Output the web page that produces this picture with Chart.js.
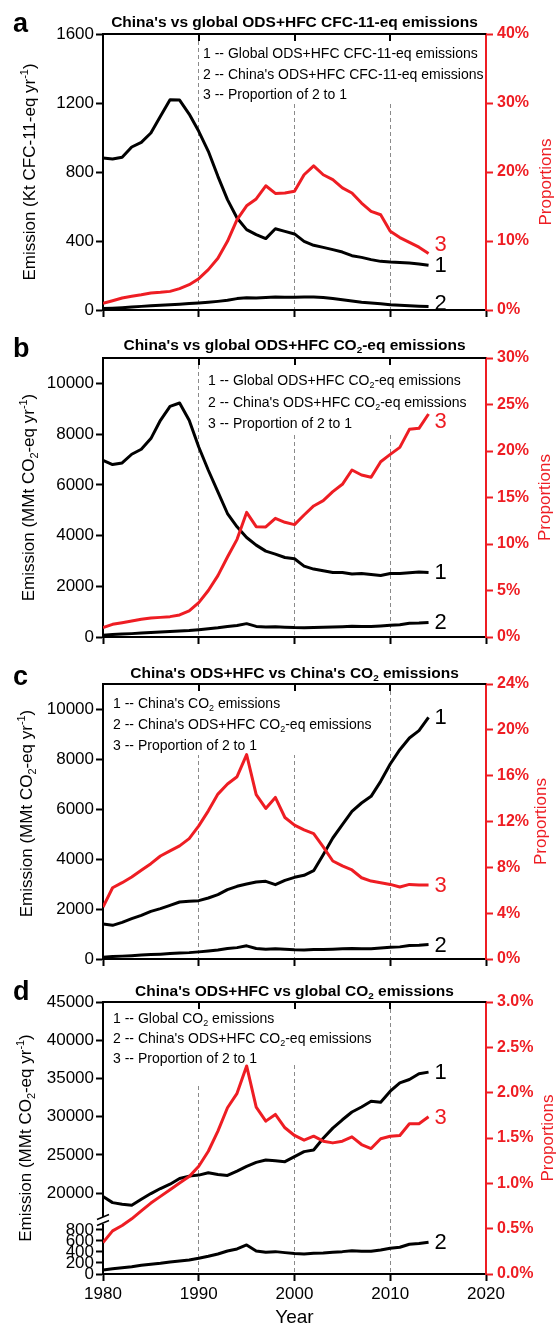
<!DOCTYPE html>
<html>
<head>
<meta charset="utf-8">
<script src="https://cdn.jsdelivr.net/npm/chart.js@4.4.1/dist/chart.umd.min.js"></script>
<style>
  html, body { margin: 0; padding: 0; background: #fff; }
  #wrap { position: relative; width: 556px; height: 1327px; overflow: hidden; background: #fff; }
  #wrap canvas { position: absolute; left: 0; display: block; }
</style>
</head>
<body>
<div id="wrap">
  <canvas id="pa" width="556" height="330" style="top:0px"></canvas>
  <canvas id="pb" width="556" height="330" style="top:322px"></canvas>
  <canvas id="pc" width="556" height="330" style="top:644px"></canvas>
  <canvas id="pd" width="556" height="361" style="top:966px"></canvas>
</div>
<script>
// ---- data ----
const years = [1980, 1981, 1982, 1983, 1984, 1985, 1986, 1987, 1988, 1989,
               1990, 1991, 1992, 1993, 1994, 1995, 1996, 1997, 1998, 1999,
               2000, 2001, 2002, 2003, 2004, 2005, 2006, 2007, 2008, 2009,
               2010, 2011, 2012, 2013, 2014];
const yearTicks = [1980, 1990, 2000, 2010, 2020];

// (a) CFC-11-eq, kt per year; share in %
const globalOdsCfc11 = [881, 875, 885, 945, 972, 1026, 1123, 1219, 1217, 1136,
                        1036, 920, 775, 640, 533, 466, 437, 414, 471, 456,
                        441, 398, 375, 363, 350, 336, 315, 305, 292, 282,
                        278, 276, 272, 267, 259];
const chinaOdsCfc11 = [8, 10, 13, 17, 21, 25, 28, 31, 34, 37,
                       41, 45, 50, 56, 66, 71, 70, 73, 76, 74,
                       74, 75, 76, 73, 67, 60, 52, 45, 40, 36,
                       31, 28, 25, 22, 20];
const shareCfc11 = [0.97, 1.35, 1.74, 1.98, 2.2, 2.46, 2.56, 2.7, 3.1, 3.67,
                    4.54, 5.85, 7.5, 9.95, 13.1, 15.1, 16.1, 18.0, 16.9, 16.95,
                    17.2, 19.6, 20.9, 19.6, 18.9, 17.7, 16.96, 15.5, 14.3, 13.8,
                    11.4, 10.5, 9.8, 9.1, 8.2];

// (b) CO2-eq, MMt per year
const globalOdsCo2 = [6968, 6798, 6863, 7205, 7402, 7822, 8543, 9094, 9226, 8543,
                      7493, 6575, 5722, 4869, 4344, 3924, 3622, 3386, 3268, 3136,
                      3084, 2795, 2677, 2612, 2546, 2546, 2480, 2507, 2467, 2428,
                      2507, 2507, 2533, 2559, 2546];
const chinaOdsCo2 = [73, 97, 115, 133, 158, 176, 194, 218, 236, 255,
                     285, 321, 364, 418, 455, 527, 418, 394, 406, 388,
                     370, 364, 376, 382, 394, 406, 424, 412, 412, 436,
                     467, 485, 539, 552, 576];
const shareOdsCo2 = [1.0, 1.36, 1.54, 1.72, 1.9, 2.04, 2.11, 2.19, 2.37, 2.8,
                     3.69, 5.0, 6.6, 8.6, 10.5, 13.4, 11.86, 11.83, 12.76, 12.33,
                     12.08, 13.12, 14.09, 14.66, 15.63, 16.42, 17.96, 17.42, 17.17, 18.85,
                     19.64, 20.39, 22.33, 22.44, 23.98];

// (c) China's CO2
const chinaCo2 = [1400, 1347, 1467, 1613, 1747, 1907, 2013, 2147, 2280, 2307,
                  2333, 2440, 2573, 2773, 2907, 3000, 3080, 3107, 2973, 3147,
                  3267, 3347, 3533, 4173, 4840, 5373, 5907, 6240, 6507, 7107,
                  7800, 8373, 8840, 9133, 9667];
const shareChinaCo2 = [4.53, 6.22, 6.66, 7.15, 7.74, 8.32, 8.99, 9.43, 9.87, 10.51,
                       11.62, 12.93, 14.39, 15.27, 15.91, 17.84, 14.34, 13.14, 14.1, 12.35,
                       11.68, 11.27, 10.95, 9.78, 8.55, 8.12, 7.77, 7.09, 6.8, 6.66,
                       6.51, 6.28, 6.51, 6.45, 6.45];

// (d) global CO2
const globalCo2 = [19561, 18772, 18553, 18421, 19210, 19956, 20614, 21184, 21930, 22237,
                   22368, 22675, 22456, 22325, 22895, 23509, 24035, 24342, 24254, 24123,
                   24781, 25439, 25658, 27193, 28509, 29605, 30614, 31272, 32018, 31886,
                   33333, 34430, 34868, 35614, 35833];
const shareGlobalCo2 = [0.347, 0.476, 0.535, 0.609, 0.697, 0.782, 0.856, 0.93, 1.004, 1.074,
                        1.188, 1.354, 1.576, 1.834, 1.993, 2.295, 1.841, 1.686, 1.76, 1.613,
                        1.528, 1.476, 1.52, 1.465, 1.446, 1.465, 1.513, 1.428, 1.384, 1.491,
                        1.52, 1.528, 1.657, 1.657, 1.734];

// tick values
const ticksA = [0, 400, 800, 1200, 1600];
const pctTicksA = [0, 10, 20, 30, 40];
const ticksMMt = [0, 2000, 4000, 6000, 8000, 10000];
const pctTicksB = [0, 5, 10, 15, 20, 25, 30];
const pctTicksC = [0, 4, 8, 12, 16, 20, 24];
const ticksDUpper = [20000, 25000, 30000, 35000, 40000, 45000];
const ticksDLower = [0, 200, 400, 600, 800];
const pctTicksD = [0, 0.5, 1, 1.5, 2, 2.5, 3];

// ---- drawing helpers ----
const FAMILY = "'Liberation Sans', Arial, Helvetica, sans-serif";
const RED = '#ee1d23';
Chart.defaults.font.family = FAMILY;
Chart.defaults.color = '#000';

// "CO_{2}" -> subscript, "yr^{-1}" -> superscript
function richParts(s) {
  const out = [];
  const re = /([_^])\{([^}]*)\}/g;
  let last = 0, m;
  while ((m = re.exec(s))) {
    if (m.index > last) out.push({ t: s.slice(last, m.index), k: 0 });
    out.push({ t: m[2], k: m[1] === '_' ? 1 : 2 });
    last = re.lastIndex;
  }
  if (last < s.length) out.push({ t: s.slice(last), k: 0 });
  return out;
}
function drawRich(ctx, s, x, y, size, weight, color, align) {
  const parts = richParts(s);
  let w = 0;
  parts.forEach(p => {
    p.sz = p.k ? size * 0.64 : size;
    ctx.font = `${weight} ${p.sz}px ${FAMILY}`;
    p.w = ctx.measureText(p.t).width;
    w += p.w;
  });
  let cx = align === 'center' ? x - w / 2 : (align === 'right' ? x - w : x);
  ctx.fillStyle = color;
  ctx.textAlign = 'left';
  ctx.textBaseline = 'alphabetic';
  parts.forEach(p => {
    ctx.font = `${weight} ${p.sz}px ${FAMILY}`;
    const dy = p.k === 1 ? size * 0.22 : (p.k === 2 ? -size * 0.42 : 0);
    ctx.fillText(p.t, cx, y + dy);
    cx += p.w;
  });
}

const decor = {
  id: 'decor',
  beforeDatasetsDraw(chart, args, o) {
    const ctx = chart.ctx, a = chart.chartArea;
    ctx.save();
    // white boxes behind the in-plot key
    ctx.fillStyle = '#fff';
    (o.masks || []).forEach(m => ctx.fillRect(m[0], m[1], m[2] - m[0], m[3] - m[1]));
    // top frame with inward ticks
    ctx.strokeStyle = '#000';
    ctx.lineWidth = 2;
    ctx.beginPath(); ctx.moveTo(a.left - 1, a.top); ctx.lineTo(a.right, a.top); ctx.stroke();
    const xs = chart.scales.x;
    yearTicks.slice(1, -1).forEach(v => {
      const px = Math.round(xs.getPixelForValue(v));
      ctx.beginPath(); ctx.moveTo(px, a.top); ctx.lineTo(px, a.top + 7); ctx.stroke();
    });
    ctx.restore();
  },
  afterDatasetsDraw(chart, args, o) {
    const ctx = chart.ctx, a = chart.chartArea;
    const cy = (a.top + a.bottom) / 2;
    ctx.save();
    // panel letter and title
    drawRich(ctx, o.letter, 13, o.letterY, 27, 'bold', '#000', 'left');
    drawRich(ctx, o.title, (a.left + a.right) / 2, o.titleY, 15.5, 'bold', '#000', 'center');
    // axis titles
    ctx.save();
    ctx.translate(o.yTitleX, cy + (o.yTitleDy || 0));
    ctx.rotate(-Math.PI / 2);
    drawRich(ctx, o.yTitle, 0, 0, 17, 'normal', '#000', 'center');
    ctx.restore();
    ctx.save();
    ctx.translate(o.rTitleX, cy + (o.rTitleDy || 0));
    ctx.rotate(-Math.PI / 2);
    drawRich(ctx, 'Proportions', 0, 0, 17, 'normal', RED, 'center');
    ctx.restore();
    // key
    o.key.forEach((line, i) => drawRich(ctx, line, o.keyX, o.keyY + i * o.keyStep, 14, 'normal', '#000', 'left'));
    // series numbers at line ends
    chart.data.datasets.forEach((ds, i) => {
      const pts = chart.getDatasetMeta(i).data;
      const p = pts[pts.length - 1];
      ctx.font = `22px ${FAMILY}`;
      ctx.fillStyle = ds.borderColor;
      ctx.textAlign = 'left';
      ctx.textBaseline = 'middle';
      ctx.fillText(ds.tag, p.x + 6, p.y + (ds.tagDy || 0) + 1);
    });
    // axis break
    if (o.axisBreak) {
      const by = chart.scales[o.axisBreak].bottom, ax = a.left;
      ctx.fillStyle = '#fff';
      ctx.fillRect(ax - 2, by - 3, 4, 7);
      ctx.strokeStyle = '#000';
      ctx.lineWidth = 1.5;
      [-3, 3].forEach(off => {
        ctx.beginPath();
        ctx.moveTo(ax - 6, by + off + 2.5);
        ctx.lineTo(ax + 6, by + off - 2.5);
        ctx.stroke();
      });
    }
    // x axis title
    if (o.xTitle) {
      ctx.font = `19px ${FAMILY}`;
      ctx.fillStyle = '#000';
      ctx.textAlign = 'center';
      ctx.textBaseline = 'alphabetic';
      ctx.fillText(o.xTitle, (a.left + a.right) / 2, o.xTitleY);
    }
    ctx.restore();
  }
};

function xScale(showYears, height) {
  return {
    type: 'linear', min: 1980, max: 2020,
    afterBuildTicks: s => { s.ticks = yearTicks.map(v => ({ value: v })); },
    afterFit: s => { s.height = height; },
    grid: {
      drawOnChartArea: true, drawTicks: true,
      color: c => (c.tick && (c.tick.value === 1980 || c.tick.value === 2020)) ? 'rgba(0,0,0,0)' : '#8a8a8a',
      lineWidth: 1, tickLength: 7, tickWidth: 2, tickColor: '#000'
    },
    border: { display: true, color: '#000', width: 2, dash: [4, 3] },
    ticks: { display: showYears, autoSkip: false, maxRotation: 0, padding: 3,
             font: { size: 17 }, color: '#000', callback: v => String(v) }
  };
}
function yLeft(min, max, tickVals, extra) {
  return Object.assign({
    type: 'linear', position: 'left', min, max,
    afterBuildTicks: s => { s.ticks = tickVals.map(v => ({ value: v })); },
    afterFit: s => { s.width = 103; },
    grid: { drawOnChartArea: false, drawTicks: true, tickLength: 7, tickWidth: 2, tickColor: '#000', color: '#000' },
    border: { display: true, color: '#000', width: 2 },
    ticks: { autoSkip: false, padding: 2, font: { size: 17 }, color: '#000', callback: v => String(v) }
  }, extra || {});
}
function yRight(max, tickVals, decimals) {
  return {
    type: 'linear', position: 'right', min: 0, max,
    afterBuildTicks: s => { s.ticks = tickVals.map(v => ({ value: v })); },
    afterFit: s => { s.width = 70; },
    grid: { drawOnChartArea: false, drawTicks: true, tickLength: 7, tickWidth: 2, tickColor: RED, color: RED },
    border: { display: true, color: RED, width: 2 },
    ticks: { autoSkip: false, padding: 4, font: { size: 16, weight: 'bold' }, color: RED,
             callback: v => Number(v).toFixed(decimals) + '%' }
  };
}
function line(label, values, axis, color, tag, tagDy, order) {
  return {
    label, tag, tagDy, order,
    data: years.map((yr, i) => ({ x: yr, y: values[i] })),
    yAxisID: axis, borderColor: color, backgroundColor: color,
    borderWidth: 3, pointRadius: 0, tension: 0, fill: false,
    borderJoinStyle: 'round', borderCapStyle: 'butt'
  };
}
function panel(id, padTop, datasets, scales, decorOpts) {
  return new Chart(document.getElementById(id), {
    type: 'line',
    data: { datasets },
    options: {
      responsive: false, animation: false, events: [],
      layout: { padding: { top: padTop, left: 0, right: 0, bottom: 0 } },
      plugins: { legend: { display: false }, tooltip: { enabled: false }, decor: decorOpts },
      scales
    },
    plugins: [decor]
  });
}

// ---- (a) ----
panel('pa', 34, [
  line('Global ODS+HFC CFC-11-eq emissions', globalOdsCfc11, 'y', '#000', '1', 0, 1),
  line("China's ODS+HFC CFC-11-eq emissions", chinaOdsCfc11, 'y', '#000', '2', -4, 2),
  line('Proportion of 2 to 1', shareCfc11, 'yR', RED, '3', -9, 0)
], {
  x: xScale(false, 20),
  y: yLeft(0, 1600, ticksA),
  yR: yRight(40, pctTicksA, 0)
}, {
  letter: 'a', letterY: 32,
  title: "China's vs global ODS+HFC CFC-11-eq emissions", titleY: 27,
  yTitle: 'Emission (Kt CFC-11-eq yr^{-1})', yTitleX: 35,
  rTitleX: 551, rTitleDy: 10,
  key: ['1 -- Global ODS+HFC CFC-11-eq emissions',
        "2 -- China's ODS+HFC CFC-11-eq emissions",
        '3 -- Proportion of 2 to 1'],
  keyX: 203, keyY: 58, keyStep: 20.5,
  masks: [[201, 35, 485, 104]]
});

// ---- (b) ----
panel('pb', 36, [
  line('Global ODS+HFC CO2-eq emissions', globalOdsCo2, 'y', '#000', '1', 0, 1),
  line("China's ODS+HFC CO2-eq emissions", chinaOdsCo2, 'y', '#000', '2', 0, 2),
  line('Proportion of 2 to 1', shareOdsCo2, 'yR', RED, '3', 7, 0)
], {
  x: xScale(false, 15),
  y: yLeft(0, 11000, ticksMMt),
  yR: yRight(30, pctTicksB, 0)
}, {
  letter: 'b', letterY: 35,
  title: "China's vs global ODS+HFC CO_{2}-eq emissions", titleY: 28,
  yTitle: 'Emission (MMt CO_{2}-eq yr^{-1})', yTitleX: 34,
  rTitleX: 550,
  key: ['1 -- Global ODS+HFC CO_{2}-eq emissions',
        "2 -- China's ODS+HFC CO_{2}-eq emissions",
        '3 -- Proportion of 2 to 1'],
  keyX: 208, keyY: 63, keyStep: 21.5,
  masks: [[201, 37, 485, 110]]
});

// ---- (c) ----
panel('pc', 40, [
  line("China's CO2 emissions", chinaCo2, 'y', '#000', '1', 0, 1),
  line("China's ODS+HFC CO2-eq emissions", chinaOdsCo2, 'y', '#000', '2', 0, 2),
  line('Proportion of 2 to 1', shareChinaCo2, 'yR', RED, '3', 0, 0)
], {
  x: xScale(false, 15),
  y: yLeft(0, 11000, ticksMMt),
  yR: yRight(24, pctTicksC, 0)
}, {
  letter: 'c', letterY: 41,
  title: "China's ODS+HFC vs China's CO_{2} emissions", titleY: 34,
  yTitle: 'Emission (MMt CO_{2}-eq yr^{-1})', yTitleX: 32, yTitleDy: -8,
  rTitleX: 546,
  key: ["1 -- China's CO_{2} emissions",
        "2 -- China's ODS+HFC CO_{2}-eq emissions",
        '3 -- Proportion of 2 to 1'],
  keyX: 113, keyY: 64, keyStep: 21,
  masks: [[105, 41, 372, 111]]
});

// ---- (d) ---- broken left axis: two stacked ranges (lower range listed first,
// the layout stacks it beneath the upper one)
panel('pd', 36, [
  line('Global CO2 emissions', globalCo2, 'yTop', '#000', '1', 0, 1),
  line("China's ODS+HFC CO2-eq emissions", chinaOdsCo2, 'yBot', '#000', '2', 0, 2),
  line('Proportion of 2 to 1', shareGlobalCo2, 'yR', RED, '3', 0, 0)
], {
  x: xScale(true, 53),
  yBot: yLeft(0, 980, ticksDLower, { stack: 'left', stackWeight: 54 }),
  yTop: yLeft(16500, 45000, ticksDUpper, { stack: 'left', stackWeight: 218 }),
  yR: yRight(3, pctTicksD, 1)
}, {
  letter: 'd', letterY: 34,
  title: "China's ODS+HFC vs global CO_{2} emissions", titleY: 30,
  yTitle: 'Emission (MMt CO_{2}-eq yr^{-1})', yTitleX: 31,
  rTitleX: 553,
  key: ['1 -- Global CO_{2} emissions',
        "2 -- China's ODS+HFC CO_{2}-eq emissions",
        '3 -- Proportion of 2 to 1'],
  keyX: 113, keyY: 57, keyStep: 20,
  masks: [[105, 37, 372, 97], [105, 97, 262, 119]],
  axisBreak: 'yTop',
  xTitle: 'Year', xTitleY: 357
});
</script>
</body>
</html>
